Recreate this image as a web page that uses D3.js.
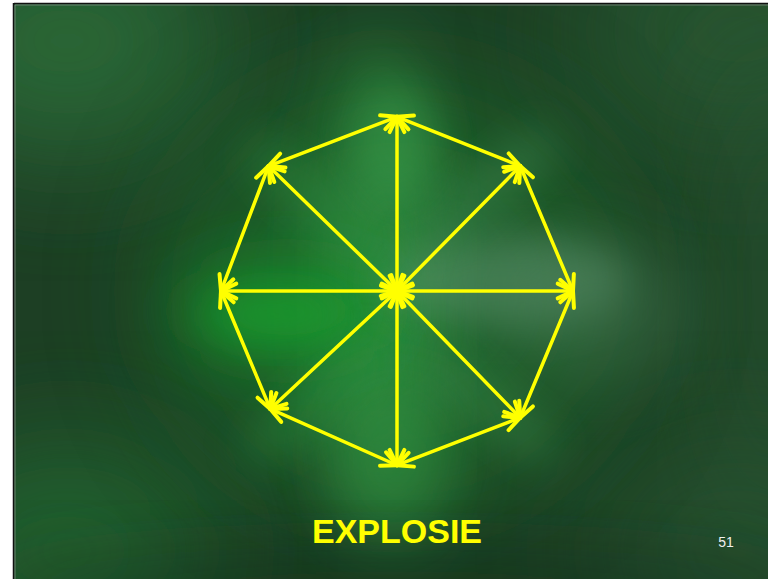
<!DOCTYPE html>
<html><head><meta charset="utf-8">
<script src="https://cdn.jsdelivr.net/npm/d3@7"></script>
<style>html,body{margin:0;padding:0;background:#fff;overflow:hidden}</style>
</head><body>
<svg id="c" width="768" height="579"></svg>
<script>
// ---- data ----
const nodeNames = ["N","NE","E","SE","S","SW","W","NW"];
const nodeX = [0, 0.70, 1, 0.70, 0, -0.72, -1, -0.73];
const nodeY = [0.99, 0.71, 0, -0.72, -0.99, -0.67, 0, 0.71];
const centerX = [0];
const centerY = [0];
const title = ["EXPLOSIE"];
const pageNumber = ["51"];

const svg = d3.select("#c");
const x = d3.scaleLinear().domain([-1, 1]).range([221, 573]);
const y = d3.scaleLinear().domain([-1, 1]).range([467, 115]);

// ---- background ----
const defs = svg.append("defs");
const mkBlur = (id, s) => defs.append("filter").attr("id", id)
  .attr("x", "-50%").attr("y", "-50%").attr("width", "200%").attr("height", "200%")
  .append("feGaussianBlur").attr("stdDeviation", s);
mkBlur("b10", 10); mkBlur("b20", 20); mkBlur("b35", 35); mkBlur("b60", 60);
const clip = defs.append("clipPath").attr("id", "slide");
clip.append("rect").attr("x", 14).attr("y", 4).attr("width", 754).attr("height", 575);

const bg = svg.append("g").attr("clip-path", "url(#slide)");
bg.append("rect").attr("x", 14).attr("y", 4).attr("width", 754).attr("height", 575).attr("fill", "#1d3f24");
const cx = x(0), cy = y(0);
const blobs = [
  // [dx, dy, rx, ry, rot, color, opacity, blur]
  [-330, -250, 160, 120, 0, "#2c6b38", 0.9, "b60"],
  [340, -260, 160, 120, 0, "#2b5d34", 0.7, "b60"],
  [380, 0, 60, 260, 0, "#2c5a34", 0.6, "b60"],
  [340, 260, 140, 110, 0, "#2a5a34", 0.6, "b60"],
  [-330, 260, 150, 110, 0, "#236a30", 0.8, "b60"],
  [0, 0, 230, 210, 0, "#1f6a2c", 0.7, "b60"],
  [-20, -20, 55, 240, 0, "#2f8e40", 0.6, "b35"],
  [-10, 60, 45, 210, 0, "#3a9a4c", 0.5, "b35"],
  [-110, 20, 110, 50, 0, "#16962a", 0.75, "b35"],
  [-125, 25, 70, 25, 0, "#1aa830", 0.45, "b20"],
  [110, -10, 120, 45, 0, "#5e9470", 0.55, "b20"],
  [200, 20, 90, 70, 0, "#4e7e5c", 0.4, "b35"],
  [-80, -90, 90, 25, 40, "#2f8a3e", 0.5, "b20"],
  [90, -100, 90, 25, -40, "#3f8a52", 0.45, "b20"],
  [-80, 110, 90, 25, -40, "#2c8a3c", 0.5, "b20"],
  [90, 110, 90, 25, 40, "#3c8a4e", 0.45, "b20"],
  [0, -150, 40, 60, 0, "#3aa04e", 0.45, "b20"],
  [0, 170, 60, 80, 0, "#2a8a3a", 0.45, "b35"]
];
bg.selectAll("ellipse.blob").data(blobs).join("ellipse")
  .attr("class", "blob")
  .attr("cx", 0).attr("cy", 0)
  .attr("rx", d => d[2]).attr("ry", d => d[3])
  .attr("transform", d => `translate(${cx + d[0]},${cy + d[1]}) rotate(${d[4]})`)
  .attr("fill", d => d[5]).attr("opacity", d => d[6])
  .attr("filter", d => `url(#${d[7]})`);
// darker band near bottom edge
bg.append("ellipse").attr("cx", 397).attr("cy", 590).attr("rx", 420).attr("ry", 45)
  .attr("fill", "#14301a").attr("opacity", 0.5).attr("filter", "url(#b35)");

// slide border (left & top)
svg.append("line").attr("x1", 14).attr("y1", 3.5).attr("x2", 768).attr("y2", 3.5).attr("stroke", "#111").attr("stroke-width", 1.5);
svg.append("line").attr("x1", 13.5).attr("y1", 3).attr("x2", 13.5).attr("y2", 579).attr("stroke", "#111").attr("stroke-width", 1.5);
svg.append("line").attr("x1", 15).attr("y1", 5).attr("x2", 768).attr("y2", 5).attr("stroke", "#9a9a9a").attr("stroke-width", 1).attr("opacity", 0.6);
svg.append("line").attr("x1", 15).attr("y1", 5).attr("x2", 15).attr("y2", 579).attr("stroke", "#9a9a9a").attr("stroke-width", 1).attr("opacity", 0.6);

// ---- graph ----
const nodes = nodeNames.map((n, i) => ({ name: n, x: nodeX[i], y: nodeY[i] }));
const center = { name: "C", x: centerX[0], y: centerY[0] };
const edges = [];
nodes.forEach(n => edges.push({ s: center, t: n }));
nodes.forEach((n, i) => edges.push({ s: n, t: nodes[(i + 1) % nodes.length] }));

const yellow = "#ffff00";
const g = svg.append("g").attr("stroke", yellow).attr("stroke-linecap", "round").attr("fill", "none");
g.selectAll("line.edge").data(edges).join("line")
  .attr("class", "edge")
  .attr("x1", d => x(d.s.x)).attr("y1", d => y(d.s.y))
  .attr("x2", d => x(d.t.x)).attr("y2", d => y(d.t.y))
  .attr("stroke-width", 3.5);

// arrowheads at both ends of every edge
const heads = [];
edges.forEach(e => {
  [[e.s, e.t], [e.t, e.s]].forEach(([a, b]) => {
    const ax = x(a.x), ay = y(a.y), bx = x(b.x), by = y(b.y);
    const ang = Math.atan2(by - ay, bx - ax); // direction toward tip b
    [-1, 1].forEach(sg => {
      const a2 = ang + Math.PI + sg * 0.45;
      heads.push({ x1: bx, y1: by, x2: bx + 17 * Math.cos(a2), y2: by + 17 * Math.sin(a2) });
    });
  });
});
g.selectAll("line.head").data(heads).join("line")
  .attr("class", "head")
  .attr("x1", d => d.x1).attr("y1", d => d.y1)
  .attr("x2", d => d.x2).attr("y2", d => d.y2)
  .attr("stroke-width", 4);

// ---- texts ----
svg.append("text").text(title[0])
  .attr("x", 397).attr("y", 543).attr("text-anchor", "middle")
  .attr("font-family", "Liberation Sans, Arial, sans-serif").attr("font-weight", "bold")
  .attr("font-size", 34).attr("fill", yellow);
svg.append("text").text(pageNumber[0])
  .attr("x", 726).attr("y", 547).attr("text-anchor", "middle")
  .attr("font-family", "Liberation Sans, Arial, sans-serif")
  .attr("font-size", 14).attr("fill", "#f0f0f0");
</script>
</body></html>
